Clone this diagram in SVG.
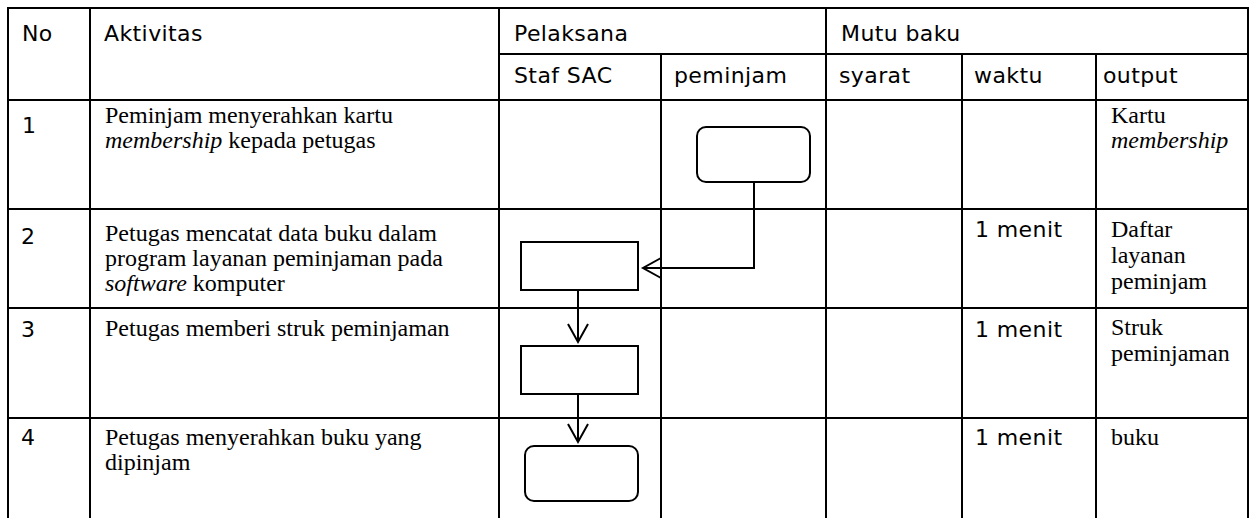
<svg xmlns="http://www.w3.org/2000/svg" width="1252" height="518" viewBox="0 0 1252 518">
<style>
.grid{stroke:#000;stroke-width:2;fill:none}
.hd{font-family:"DejaVu Sans","Liberation Sans",sans-serif;font-size:22px;letter-spacing:0.4px;fill:#000}
.tx{font-family:"Liberation Serif","Times New Roman",serif;font-size:24px;fill:#000}
.it{font-style:italic}
.shape{fill:#fff;stroke:#000;stroke-width:2}
.conn{fill:none;stroke:#000;stroke-width:2}
</style>
<defs>
<marker id="arr" markerUnits="userSpaceOnUse" markerWidth="24" markerHeight="24" refX="18" refY="10" orient="auto" style="overflow:visible">
<path d="M0,0 L18,10 L0,20" fill="none" stroke="#000" stroke-width="2"/>
</marker>
</defs>
<rect width="1252" height="518" fill="#fff"/>
<g id="table" class="grid">
<path d="M8,518 V8 H1248 V518"/>
<path d="M90,8 V518 M499,8 V518 M826,8 V518"/>
<path d="M661,54 V518 M962,54 V518 M1096,54 V518"/>
<path d="M499,54 H1248"/>
<path d="M8,100 H1248 M8,209 H1248 M8,308 H1248 M8,418 H1248"/>
</g>
<g id="header">
<text class="hd" x="22" y="41">No</text>
<text class="hd" x="104" y="41">Aktivitas</text>
<text class="hd" x="514" y="41">Pelaksana</text>
<text class="hd" x="841" y="41">Mutu baku</text>
<text class="hd" x="514" y="83">Staf SAC</text>
<text class="hd" x="674" y="83">peminjam</text>
<text class="hd" x="839" y="83">syarat</text>
<text class="hd" x="974" y="83">waktu</text>
<text class="hd" x="1103" y="83">output</text>
</g>
<g id="row1">
<text class="hd" x="22" y="133">1</text>
<text class="tx" x="105" y="123">Peminjam menyerahkan kartu</text>
<text class="tx" x="105" y="148"><tspan class="it">membership</tspan> kepada petugas</text>
<text class="tx" x="1111" y="123">Kartu</text>
<text class="tx it" x="1111" y="148">membership</text>
</g>
<g id="row2">
<text class="hd" x="21" y="244">2</text>
<text class="tx" x="105" y="241">Petugas mencatat data buku dalam</text>
<text class="tx" x="105" y="266">program layanan peminjaman pada</text>
<text class="tx" x="105" y="291"><tspan class="it">software</tspan> komputer</text>
<text class="hd" x="975" y="237">1 menit</text>
<text class="tx" x="1111" y="237">Daftar</text>
<text class="tx" x="1111" y="263">layanan</text>
<text class="tx" x="1111" y="289">peminjam</text>
</g>
<g id="row3">
<text class="hd" x="21" y="337">3</text>
<text class="tx" x="105" y="336">Petugas memberi struk peminjaman</text>
<text class="hd" x="975" y="337">1 menit</text>
<text class="tx" x="1111" y="335">Struk</text>
<text class="tx" x="1111" y="361">peminjaman</text>
</g>
<g id="row4">
<text class="hd" x="21" y="445">4</text>
<text class="tx" x="105" y="445">Petugas menyerahkan buku yang</text>
<text class="tx" x="105" y="470">dipinjam</text>
<text class="hd" x="975" y="445">1 menit</text>
<text class="tx" x="1111" y="445">buku</text>
</g>
<g id="node-start">
<rect class="shape" x="697" y="127" width="113" height="55" rx="9"/>
</g>
<g id="node-catat">
<rect class="shape" x="521" y="242" width="117" height="48"/>
</g>
<g id="node-struk">
<rect class="shape" x="521" y="346" width="117" height="48"/>
</g>
<g id="node-end">
<rect class="shape" x="525" y="446" width="113" height="55" rx="9"/>
</g>
<g id="connectors">
<path class="conn" d="M754,182 V268 H643" marker-end="url(#arr)"/>
<path class="conn" d="M578,290 V342" marker-end="url(#arr)"/>
<path class="conn" d="M578,394 V442" marker-end="url(#arr)"/>
</g>
</svg>
